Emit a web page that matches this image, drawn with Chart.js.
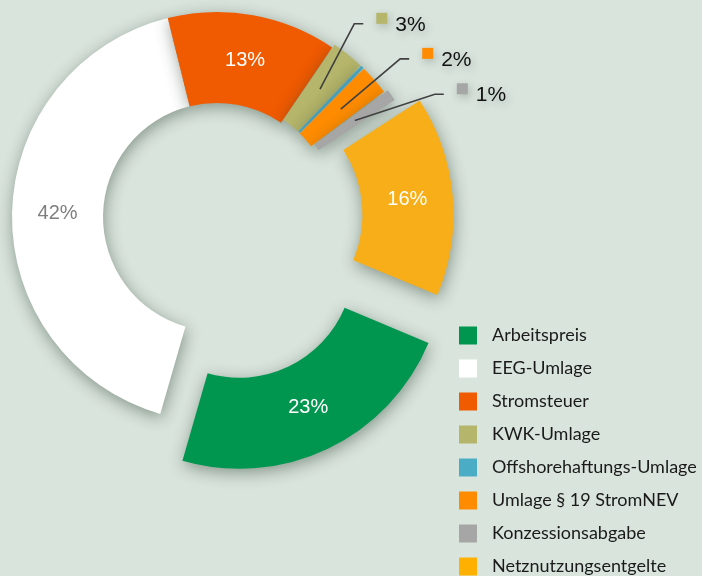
<!DOCTYPE html>
<html>
<head>
<meta charset="utf-8">
<script src="https://cdn.jsdelivr.net/npm/chart.js@4"></script>
<style>
  html, body { margin: 0; padding: 0; background: #d9e4dc; }
  canvas { display: block; }
</style>
</head>
<body>
<canvas id="chart" width="702" height="576"></canvas>
<script>
// Strompreis-Bestandteile (Anteile in %)
const categories = [
  "Arbeitspreis",
  "EEG-Umlage",
  "Stromsteuer",
  "KWK-Umlage",
  "Offshorehaftungs-Umlage",
  "Umlage § 19 StromNEV",
  "Konzessionsabgabe",
  "Netznutzungsentgelte"
];
const shares = [23.2, 41.8, 13.4, 2.6, 0.3, 2.4, 1.0, 15.6];

const colors = ["#009650", "#ffffff", "#f05a00", "#b5b56b", "#4bacc6", "#ff8c00", "#a6a6a6", "#f7ae18"];
const legendColors = ["#009650", "#ffffff", "#f05a00", "#b5b56b", "#4bacc6", "#ff8c00", "#a6a6a6", "#ffb000"];
const labelColors = ["#ffffff", "#7f7f7f", "#ffffff", "#222", "#222", "#222", "#222", "#ffffff"];
// explode amount per slice (Chart.js arc offset)
const offsets = [206, 0, 0, 8, 8, 8, 16, 108];
// callout elbows for the small slices: angle clockwise from top (deg), radius (px)
const callouts = { 3: [35.4, 237], 5: [49.2, 242], 6: [60.6, 250] };

function arcShift(arc) {
  const p = arc.getProps(["startAngle", "endAngle", "circumference"]);
  const off = (arc.options.offset || 0) / 4;
  const mid = (p.startAngle + p.endAngle) / 2;
  const fix = 1 - Math.sin(Math.min(Math.PI, p.circumference || 0));
  const d = off + off * fix;
  return { dx: Math.cos(mid) * d, dy: Math.sin(mid) * d, mid: mid };
}

const shadowPlugin = {
  id: "shadow",
  beforeDatasetsDraw(chart) {
    const ctx = chart.ctx;
    ctx.save();
    ctx.shadowColor = "rgba(30,50,35,0.45)";
    ctx.shadowBlur = 16;
    ctx.shadowOffsetX = 1;
    ctx.shadowOffsetY = 4;
  },
  afterDatasetsDraw(chart) {
    chart.ctx.restore();
  }
};

const labelPlugin = {
  id: "labels",
  afterDraw(chart) {
    const ctx = chart.ctx;
    const meta = chart.getDatasetMeta(0);
    ctx.save();
    meta.data.forEach((arc, i) => {
      const v = shares[i];
      const s = arcShift(arc);
      const rMid = (arc.innerRadius + arc.outerRadius) / 2;
      const txt = Math.round(v) + "%";
      if (v >= 5) {
        ctx.font = "20px 'Liberation Sans', Arial, sans-serif";
        ctx.fillStyle = labelColors[i];
        ctx.textAlign = "center";
        ctx.textBaseline = "middle";
        ctx.fillText(txt, arc.x + Math.cos(s.mid) * rMid + s.dx, arc.y + Math.sin(s.mid) * rMid + s.dy);
      } else if (callouts[i]) {
        const r0 = rMid + 1;
        const x0 = arc.x + Math.cos(s.mid) * r0 + s.dx;
        const y0 = arc.y + Math.sin(s.mid) * r0 + s.dy;
        const a = (callouts[i][0] - 90) * Math.PI / 180;
        const x1 = arc.x + Math.cos(a) * callouts[i][1];
        const y1 = arc.y + Math.sin(a) * callouts[i][1];
        ctx.strokeStyle = "#404040";
        ctx.lineWidth = 1.6;
        ctx.beginPath();
        ctx.moveTo(x0, y0);
        ctx.lineTo(x1, y1);
        ctx.lineTo(x1 + 9, y1);
        ctx.stroke();
        ctx.save();
        ctx.shadowColor = "rgba(30,50,35,0.25)";
        ctx.shadowBlur = 8;
        ctx.shadowOffsetX = 2;
        ctx.shadowOffsetY = 3;
        ctx.fillStyle = colors[i];
        ctx.fillRect(x1 + 22, y1 - 11, 11, 11);
        ctx.font = "21px 'Liberation Sans', Arial, sans-serif";
        ctx.fillStyle = "#111";
        ctx.textAlign = "left";
        ctx.textBaseline = "middle";
        ctx.fillText(txt, x1 + 41, y1 + 1);
        ctx.restore();
      }
    });
    // legend
    const lx = 459, ly = 335.5, gap = 33;
    ctx.font = "18px Lato, 'Open Sans', sans-serif";
    ctx.textAlign = "left";
    ctx.textBaseline = "middle";
    categories.forEach((name, i) => {
      const y = ly + i * gap;
      ctx.fillStyle = legendColors[i];
      ctx.fillRect(lx, y - 9, 18, 18);
      ctx.fillStyle = "#1a1a1a";
      ctx.fillText(name, lx + 33, y);
    });
    ctx.restore();
  }
};

new Chart(document.getElementById("chart"), {
  type: "doughnut",
  data: {
    labels: categories,
    datasets: [{
      data: shares,
      backgroundColor: colors,
      borderWidth: 0,
      offset: offsets,
      hoverOffset: 0,
      clip: false
    }]
  },
  options: {
    responsive: false,
    devicePixelRatio: 1,
    animation: false,
    rotation: 112.8,
    cutout: "55.6%",
    radius: 205,
    layout: { padding: { left: 0, top: 0, right: 268, bottom: 142 } },
    plugins: {
      legend: { display: false },
      tooltip: { enabled: false }
    },
    events: []
  },
  plugins: [shadowPlugin, labelPlugin]
});
</script>
</body>
</html>
